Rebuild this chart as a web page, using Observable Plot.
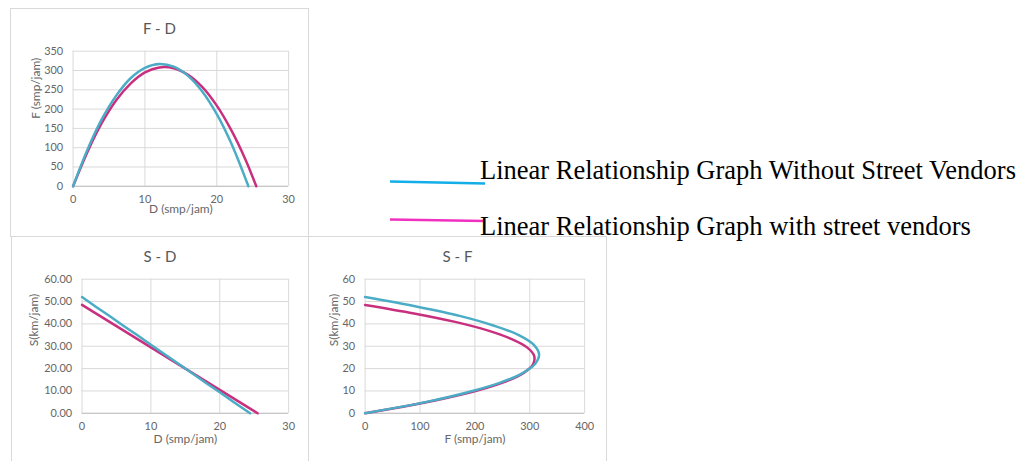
<!DOCTYPE html>
<html><head><meta charset="utf-8">
<script src="https://cdn.jsdelivr.net/npm/d3@7"></script>
<script src="https://cdn.jsdelivr.net/npm/@observablehq/plot@0.6"></script>
<style>
body{margin:0;background:#fff;width:1024px;height:461px;overflow:hidden;position:relative;font-family:Lato,sans-serif}
.panel{position:absolute;border:1px solid #d9d9d9;box-sizing:border-box;overflow:hidden}
.panel svg{position:absolute;left:0;top:0}
.title{position:absolute;left:0;right:0;text-align:center;font-size:15px;color:#595959;font-family:Lato,sans-serif}
.leg{position:absolute;font-family:"Liberation Serif","Times New Roman",serif;font-size:26.5px;color:#000;white-space:nowrap;line-height:1}
#legsvg{position:absolute;left:0;top:0}
</style></head><body>
<div class="panel" id="p1" style="left:10px;top:8px;width:299px;height:229px"><div class="title" style="top:10px">F - D</div></div>
<div class="panel" id="p2" style="left:11px;top:236px;width:298px;height:240px"><div class="title" style="top:10px">S - D</div></div>
<div class="panel" id="p3" style="left:308px;top:236px;width:299px;height:240px"><div class="title" style="top:10px">S - F</div></div>
<svg id="legsvg" width="1024" height="461"></svg>
<div class="leg" style="left:480px;top:157px">Linear Relationship Graph Without Street Vendors</div>
<div class="leg" style="left:480px;top:213px">Linear Relationship Graph with street vendors</div>
<script>
// Series
const seriesNames = ["Linear Relationship Graph Without Street Vendors", "Linear Relationship Graph with street vendors"];
const D_without = [0, 2, 4, 6, 8, 10, 12, 14, 16, 18, 20, 22, 24.4];
const S_without = [52, 47.7, 43.5, 39.2, 35.0, 30.7, 26.4, 22.2, 17.9, 13.6, 9.4, 5.1, 0];
const F_without = [0, 95, 174, 235, 280, 307, 317, 310, 286, 245, 187, 112, 0];
const D_with = [0, 2, 4, 6, 8, 10, 12, 14, 16, 18, 20, 22, 24, 25.5];
const S_with = [48.5, 44.7, 40.9, 37.1, 33.3, 29.5, 25.7, 21.9, 18.1, 14.3, 10.5, 6.7, 2.9, 0];
const F_with = [0, 89, 164, 223, 266, 295, 308, 306, 289, 257, 209, 146, 69, 0];
const D_ticks = [0, 10, 20, 30];
const F_ticks = [0, 50, 100, 150, 200, 250, 300, 350];
const S_ticks = [0, 10, 20, 30, 40, 50, 60];
const Fx_ticks = [0, 100, 200, 300, 400];

const colBlue = "#4bacc6", colMag = "#c8307f";
const legBlue = "#13aee8", legMag = "#f030c0";

const rows = [];
D_with.forEach((d, i) => rows.push({s: 1, D: d, S: S_with[i], F: F_with[i]}));
D_without.forEach((d, i) => rows.push({s: 0, D: d, S: S_without[i], F: F_without[i]}));
const withRows = rows.filter(r => r.s === 1), withoutRows = rows.filter(r => r.s === 0);

const grey = "#666666";
function make({w, h, ml, mr, mt, mb, xd, yd, xt, yt, yfmt, xkey, ykey, xlab, ylab, ylo, xlo, curve}) {
  return Plot.plot({
    width: w, height: h, marginLeft: ml, marginRight: mr, marginTop: mt, marginBottom: mb,
    style: {fontFamily: "Lato, sans-serif", fontSize: "11px", color: grey, background: "transparent", overflow: "visible"},
    x: {domain: xd}, y: {domain: yd},
    marks: [
      Plot.gridX(xt, {stroke: "#d9d9d9", strokeOpacity: 1}),
      Plot.gridY(yt, {stroke: "#d9d9d9", strokeOpacity: 1}),
      Plot.ruleY([0], {stroke: "#bfbfbf"}),
      Plot.axisX(xt, {tickSize: 0, tickPadding: 9, label: null, fill: grey, fontSize: 11}),
      Plot.axisY(yt, {tickSize: 0, tickPadding: 10, label: null, fill: grey, tickFormat: yfmt, fontSize: 11}),
      Plot.text([xlab], {frameAnchor: "bottom", dy: xlo, fontSize: 12, fill: grey}),
      Plot.text([ylab], {frameAnchor: "left", dx: -ylo, rotate: -90, fontSize: 12, fill: grey}),
      Plot.line(withRows, {x: xkey, y: ykey, stroke: colMag, strokeWidth: 2.5, curve}),
      Plot.line(withoutRows, {x: xkey, y: ykey, stroke: colBlue, strokeWidth: 2.5, curve})
    ]
  });
}
document.getElementById("p1").appendChild(make({w: 299, h: 229, ml: 62, mr: 20, mt: 42, mb: 51,
  xd: [0, 30], yd: [0, 350], xt: D_ticks, yt: F_ticks, yfmt: d3.format("d"), xkey: "D", ykey: "F",
  xlab: "D (smp/jam)", ylab: "F (smp/jam)", ylo: 37, xlo: 27, curve: "catmull-rom"}));
document.getElementById("p2").appendChild(make({w: 298, h: 225, ml: 70, mr: 20, mt: 42, mb: 48,
  xd: [0, 30], yd: [0, 60], xt: D_ticks, yt: S_ticks, yfmt: d3.format(".2f"), xkey: "D", ykey: "S",
  xlab: "D (smp/jam)", ylab: "S(km/jam)", ylo: 48, xlo: 30, curve: "linear"}));
document.getElementById("p3").appendChild(make({w: 299, h: 225, ml: 56, mr: 22, mt: 42, mb: 48,
  xd: [0, 400], yd: [0, 60], xt: Fx_ticks, yt: S_ticks, yfmt: d3.format("d"), xkey: "F", ykey: "S",
  xlab: "F (smp/jam)", ylab: "S(km/jam)", ylo: 31, xlo: 30, curve: "catmull-rom"}));

// legend swatches
const ls = d3.select("#legsvg");
ls.append("line").attr("x1", 390).attr("x2", 485).attr("y1", 181.5).attr("y2", 183.5).attr("stroke", legBlue).attr("stroke-width", 2.5);
ls.append("line").attr("x1", 390).attr("x2", 485).attr("y1", 219.5).attr("y2", 221).attr("stroke", legMag).attr("stroke-width", 2.5);
</script>
</body></html>
